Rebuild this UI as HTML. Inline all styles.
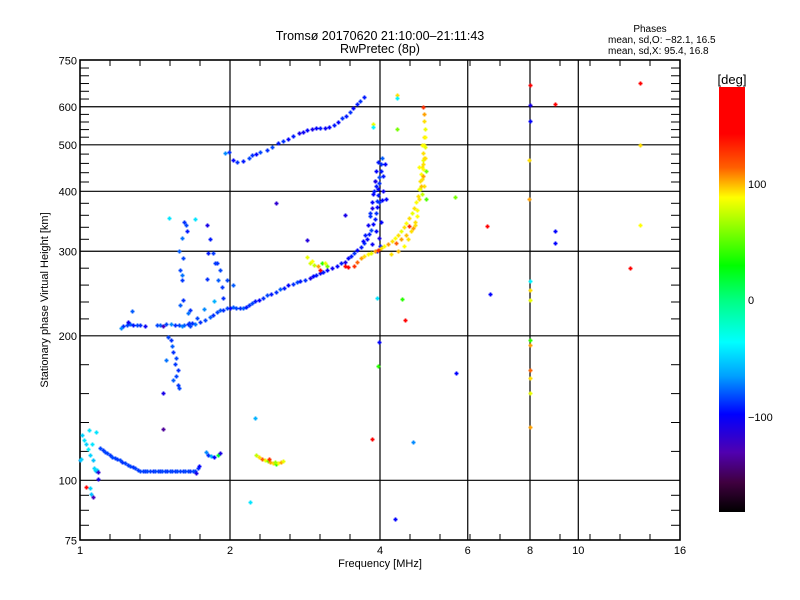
<!DOCTYPE html>
<html><head><meta charset="utf-8">
<style>
body{margin:0;background:#fff;}
#wrap{position:relative;width:800px;height:600px;overflow:hidden;background:#fff;font-family:"Liberation Sans",sans-serif;}
svg text{font-family:"Liberation Sans",sans-serif;fill:#000;}
</style></head>
<body>
<div id="wrap">
<svg id="chart" width="800" height="600" viewBox="0 0 800 600" xmlns="http://www.w3.org/2000/svg">
<defs>
<linearGradient id="cbar" x1="0" y1="0" x2="0" y2="1">
<stop offset="0" stop-color="#ff0000"/>
<stop offset="0.11" stop-color="#ff0000"/>
<stop offset="0.19" stop-color="#ff6000"/>
<stop offset="0.26" stop-color="#ffff00"/>
<stop offset="0.42" stop-color="#00ff00"/>
<stop offset="0.50" stop-color="#00ff80"/>
<stop offset="0.60" stop-color="#00ffff"/>
<stop offset="0.68" stop-color="#00a0ff"/>
<stop offset="0.77" stop-color="#0000ff"/>
<stop offset="0.86" stop-color="#5000b0"/>
<stop offset="0.93" stop-color="#400040"/>
<stop offset="1" stop-color="#000000"/>
</linearGradient>
</defs>
<text x="380" y="40" font-size="12.5" text-anchor="middle">Tromsø 20170620 21:10:00–21:11:43</text>
<text x="380" y="53" font-size="12.5" text-anchor="middle">RwPretec (8p)</text>
<text x="650" y="32" font-size="10" text-anchor="middle">Phases</text>
<text x="608" y="43" font-size="10">mean, sd,O: −82.1, 16.5</text>
<text x="608" y="54" font-size="10">mean, sd,X:  95.4, 16.8</text>
<text x="380" y="567" font-size="11" text-anchor="middle">Frequency [MHz]</text>
<text x="48" y="300" font-size="11" text-anchor="middle" transform="rotate(-90 48 300)">Stationary phase Virtual Height [km]</text>
<g id="axes"></g>
<g id="marks"></g>
<rect x="719" y="87" width="26" height="425" fill="url(#cbar)"/>
<text x="732" y="84" font-size="13" text-anchor="middle">[deg]</text>
<text x="748" y="188" font-size="11">100</text>
<text x="748" y="304" font-size="11">0</text>
<text x="748" y="421" font-size="11">−100</text>
</svg>
</div>
<script>
const xTickVals = [1, 2, 4, 6, 8, 10, 16];
const xTickLabels = ["1", "2", "4", "6", "8", "10", "16"];
const xGridVals = [2, 4, 6, 8, 10];
const yTickVals = [75, 100, 200, 300, 400, 500, 600, 750];
const yTickLabels = ["75", "100", "200", "300", "400", "500", "600", "750"];
const yGridVals = [100, 200, 300, 400, 500, 600];

// echoes: frequency (MHz), virtual height (km), phase (deg)
const freqs = [
1.097,1.110,1.122,1.135,1.149,1.162,1.175,1.189,1.203,1.217,1.231,1.246,1.260,1.275,1.289,1.305,1.320,1.335,1.350,1.366,1.382,1.398,1.414,1.431,1.447,1.464,1.481,1.498,1.516,1.533,1.551,1.569,1.587,1.606,1.625,1.644,1.663,1.682,1.701,1.712,1.724,1.73,
1.79,1.81,1.83,1.86,1.89,1.91,
1.009,1.018,1.028,1.038,1.047,1.055,1.060,1.067,1.072,1.077,1.082,1.087,1.087,1.03,1.045,1.05,1.062,1.0,1.003,1.075,1.044,1.47,
1.22,1.24,1.26,1.28,1.30,1.32,1.35,1.21,1.25,1.27,
1.43,1.45,1.47,1.49,1.52,1.55,1.58,1.60,1.62,1.65,1.68,1.70,
1.74,1.78,1.82,1.85,1.88,1.91,1.94,1.97,2.00,2.03,2.06,2.09,2.12,2.15,2.18,2.21,2.25,2.29,2.33,2.37,2.42,2.47,2.52,2.57,2.62,2.67,2.72,2.77,2.83,2.89,2.93,2.97,3.03,3.08,3.13,3.20,3.28,3.34,3.40,3.45,3.50,3.55,3.60,3.66,3.72,3.76,3.80,3.84,3.87,3.90,3.92,3.94,3.95,3.96,3.97,3.98,3.99,4.01,4.02,4.03,
3.85,3.88,3.92,4.05,3.93,3.82,3.90,4.06,4.10,3.95,4.00,3.98,4.03,3.86,4.12,
2.89,2.92,2.95,3.00,3.03,3.06,3.10,3.13,2.86,3.40,3.45,
3.55,3.60,3.66,3.72,3.78,3.84,3.90,3.96,4.02,4.08,4.15,4.22,4.28,4.34,4.40,4.46,4.52,4.58,4.63,4.68,4.72,4.76,4.79,4.81,4.83,4.85,4.87,4.89,4.90,4.91,4.92,4.91,4.90,4.89,
4.70,4.75,4.62,4.85,4.90,4.80,4.88,4.93,4.86,4.95,4.52,4.40,4.30,4.58,4.95,
3.87,3.87,4.33,4.33,4.33,
1.95,1.99,2.03,2.07,2.12,2.18,2.21,2.26,2.30,2.37,2.43,2.50,2.56,2.62,2.68,2.75,2.80,2.86,2.92,2.97,3.03,3.10,3.16,3.23,3.30,3.36,3.42,3.48,3.53,3.59,3.65,3.72,
1.50,1.52,1.53,1.54,1.56,1.55,1.57,1.56,1.54,1.57,1.58,1.49,1.47,
1.587,1.602,1.610,1.587,1.662,1.645,1.655,1.662,1.797,1.823,1.849,1.88,1.91,1.893,1.925,1.937,1.974,2.028,1.866,1.806,1.701,1.602,1.797,
1.51,1.62,1.63,1.64,1.60,1.58,1.61,1.77,1.86,1.72,
2.47,3.40,2.85,4.42,4.48,3.94,3.98,3.96,3.85,2.25,2.19,4.66,4.29,5.68,5.66,6.64,6.56,8.97,8.97,9.0,12.7,13.3,13.3,13.3,
8.0,8.0,8.0,7.97,7.98,8.0,8.0,8.0,8.0,8.01,8.0,8.0,8.0,8.0,
2.26,2.29,2.32,2.35,2.38,2.41,2.44,2.47,2.50,2.53,2.56,2.40,2.46,
3.70,3.74,3.78,3.82,3.86,3.89,3.91,3.93,3.96,3.99,4.02,
4.70,4.74,4.78,4.82,4.86,4.88,4.90,4.92,4.93,4.88,4.84,4.66,4.56,4.46,4.34,4.20
];
const heights = [
116.8,115.5,114.6,113.8,112.9,112,111.3,110.7,110.2,109.4,108.6,107.8,107.1,106.6,106.1,105.2,104.6,104.5,104.5,104.5,104.5,104.6,104.5,104.6,104.5,104.5,104.6,104.5,104.5,104.5,104.6,104.5,104.5,104.5,104.6,104.5,104.4,104.6,104.6,103.8,106,107,
114.5,113,112.5,112,113,114,
124.3,121.5,119,116,113,118.9,110.2,106,105,104.6,105,104,100.5,97,96.5,93.5,92.5,110,111,126,127,128,
210,211,211.5,211,211,210.5,210,208,214,225,
211,211,210,212,211.5,210.5,211,210,211,212,213,212,
213.6,216,218.8,221,224,226,226.5,228,228.5,229.6,228.5,228,228.5,230,232,234,236,238,240,243,245,247,250,252,255,257,258.9,260,262,264,266,267.8,270,272,274,277,280,283,285,290,293,297,302,306,312,318,326,333,342,350,360,371,382,393,405,416,428,440,455,470,
370,395,410,400,330,355,420,430,455,300,307,320,384,310,385,
283,286,281,279,274,283,283,280,292,280,278,
280,285,290,293,296,298,300,302,305,308,310,315,320,325,330,337,344,352,360,370,380,392,405,420,435,450,465,480,500,520,540,560,580,600,
340,355,330,395,410,450,430,470,500,440,325,318,312,338,385,
553,545,635,625,540,
480,483,465,461,462,469,475,478,482,487,495,505,510,515,521,528,532,536,540,541,543,543,545,550,558,568,573,585,597,608,618,628,
199,196,190,185,180,175,170,165,162,158,156,178,152,
274,261,237,232,226,223,213,210,340,318,297,284,274,261,253,240,261,255,284,298,350,268,263,
352,346,340,330,320,300,290,227,236,218,
378,357,316,239,216,240,194,173,122,135,90,120,83,167,390,245,339,330,312,608,277,341,672,500,
666,605,560,465,385,249,237,196,191,170,163,152,129,260,
113,112,111,110,109.5,109,108.5,108,108.5,109,109.5,111,109,
315,325,340,360,380,400,420,440,460,380,345,
345,365,385,405,425,445,470,495,520,455,410,335,318,308,300,296
];
const phases = [
-85,-88,-85,-86,-88,-85,-86,-88,-85,-90,-86,-88,-85,-90,-86,-88,-85,-86,-88,-85,-86,-90,-85,-86,-88,-85,-86,-88,-85,-86,-88,-85,-86,-88,-85,-86,-88,-85,-86,-110,-90,-100,
-70,-90,-60,-100,20,-110,
-50,-45,-50,-40,-50,-45,-55,-50,-45,-60,-50,-120,-110,150,-50,-55,-130,-60,-50,-45,-45,-140,
-90,-85,-80,-95,-85,-90,-105,-70,-105,-80,
-85,-80,-130,-85,-70,-90,-85,-70,-80,-95,-90,-75,
-90,-85,-80,-90,-85,-80,-90,-85,-100,-80,-85,-90,-80,-95,-90,-85,-95,-100,-90,-85,-95,-90,-80,-95,-100,-90,-85,-95,-90,-110,-100,-95,-105,-95,-100,-105,-100,-95,-110,-100,-95,-90,-100,-95,-90,-100,-95,-85,-100,-95,-90,-100,-90,-95,-100,-90,-85,-95,-90,-80,
-110,-100,-95,-105,-100,-90,-100,-95,-100,-100,-95,-110,-100,-105,-100,
85,95,80,110,150,40,90,60,90,150,160,
130,120,110,100,95,90,110,130,100,95,110,100,95,100,90,100,95,100,90,100,95,100,90,100,95,100,90,100,95,100,90,100,110,130,
100,95,100,80,100,95,110,100,95,60,105,110,120,130,50,
90,-40,100,-40,60,
-70,-90,-100,-90,-95,-85,-90,-100,-85,-90,-85,-95,-90,-100,-95,-110,-105,-100,-110,-100,-95,-105,-100,-95,-100,-90,-95,-90,-100,-95,-90,-95,
-85,-90,-80,-90,-85,-88,-90,-85,-80,-88,-85,-75,-110,
-85,-88,-90,-80,-90,-75,-88,-85,-110,-95,-88,-90,-85,-80,-88,-90,-85,-80,-88,-95,-45,-75,-90,
-45,-90,-85,-95,-75,-80,-85,-70,-60,-85,
-120,-110,-115,40,150,-45,-100,40,150,-60,-45,-70,-100,-100,60,-100,150,-100,-100,140,165,95,170,100,
165,-110,-100,100,110,100,90,40,110,120,100,90,110,-40,
80,100,120,90,60,110,100,40,95,110,90,130,70,
-100,-95,-105,-90,-100,-95,-110,-100,-95,-90,-100,
100,95,100,90,100,95,100,90,95,100,105,110,100,95,105,100
];

const PX0 = 80, PX1 = 680, PY0 = 60, PY1 = 540;
function xScale(f){ return PX0 + 150 * Math.log2(f); }
function yScale(h){ return 480.3 - 480 * Math.log10(h / 100); }

const colorStops = [[184,[255,0,0]],[140,[255,0,0]],[120,[255,96,0]],[95,[255,255,0]],[30,[0,255,0]],[0,[0,255,128]],[-37,[0,255,255]],[-65,[0,160,255]],[-100,[0,0,255]],[-135,[80,0,176]],[-160,[64,0,64]],[-184,[0,0,0]]];
function phaseColor(p){
  for (let i = 0; i < colorStops.length - 1; i++){
    const a = colorStops[i], b = colorStops[i+1];
    if (p <= a[0] && p >= b[0]){
      const t = (a[0] - p) / (a[0] - b[0]);
      const c = a[1].map((v,k)=>Math.round(v + (b[1][k]-v)*t));
      return "rgb(" + c.join(",") + ")";
    }
  }
  return p > 0 ? "rgb(255,0,0)" : "rgb(0,0,0)";
}

const NS = "http://www.w3.org/2000/svg";
const axes = document.getElementById("axes");
function mk(tag, attrs, parent){
  const e = document.createElementNS(NS, tag);
  for (const k in attrs) e.setAttribute(k, attrs[k]);
  parent.appendChild(e);
  return e;
}

xGridVals.forEach(v => {
  const x = xScale(v);
  const l = mk("line", {x1:x, y1:PY0, x2:x, y2:PY1, stroke:"#000", "stroke-width":1.2}, axes);
  
  
});
yGridVals.forEach(v => {
  const y = yScale(v);
  const l = mk("line", {x1:PX0, y1:y, x2:PX1, y2:y, stroke:"#000", "stroke-width":1.2}, axes);
  
  
});

for (let i = 1; i < 20; i++){
  const x = PX0 + i * 30;
  if (i % 5 === 0) continue;
  const t1 = mk("line", {x1:x, y1:PY1, x2:x, y2:PY1-6, stroke:"#000", "stroke-width":1}, axes);
  
  
  const t2 = mk("line", {x1:x, y1:PY0, x2:x, y2:PY0+6, stroke:"#000", "stroke-width":1}, axes);
  
  
}
const ySplits = [4,5,5,5,5,5,6];
for (let i = 0; i < yTickVals.length - 1; i++){
  const ya = yScale(yTickVals[i]), yb = yScale(yTickVals[i+1]), n = ySplits[i];
  for (let j = 1; j < n; j++){
    const y = ya + (yb - ya) * j / n;
    const t1 = mk("line", {x1:PX0, y1:y, x2:PX0+9, y2:y, stroke:"#000", "stroke-width":1}, axes);
    
    
    const t2 = mk("line", {x1:PX1, y1:y, x2:PX1-9, y2:y, stroke:"#000", "stroke-width":1}, axes);
    
    
  }
}

xTickVals.forEach((v,i) => {
  const t = mk("text", {x:xScale(v), y:PY1+14, "font-size":11, "text-anchor":"middle"}, axes);
  t.textContent = xTickLabels[i];
  
  
});
yTickVals.forEach((v,i) => {
  const t = mk("text", {x:PX0-3, y:yScale(v)+4, "font-size":11, "text-anchor":"end"}, axes);
  t.textContent = yTickLabels[i];
  
  
});

const frame = mk("rect", {x:PX0, y:PY0, width:PX1-PX0, height:PY1-PY0, fill:"none", stroke:"#000", "stroke-width":1.6}, axes);



const marks = document.getElementById("marks");
for (let i = 0; i < freqs.length; i++){
  const x = Math.round(xScale(freqs[i])) + 0.5, y = Math.round(yScale(heights[i])) + 0.5;
  const p = mk("path", {d:"M"+(x-2)+" "+y+"H"+(x+2)+"M"+x+" "+(y-2)+"V"+(y+2), stroke:phaseColor(phases[i]), "stroke-width":1.8, fill:"none"}, marks);
  
  
}
</script>
</body></html>
